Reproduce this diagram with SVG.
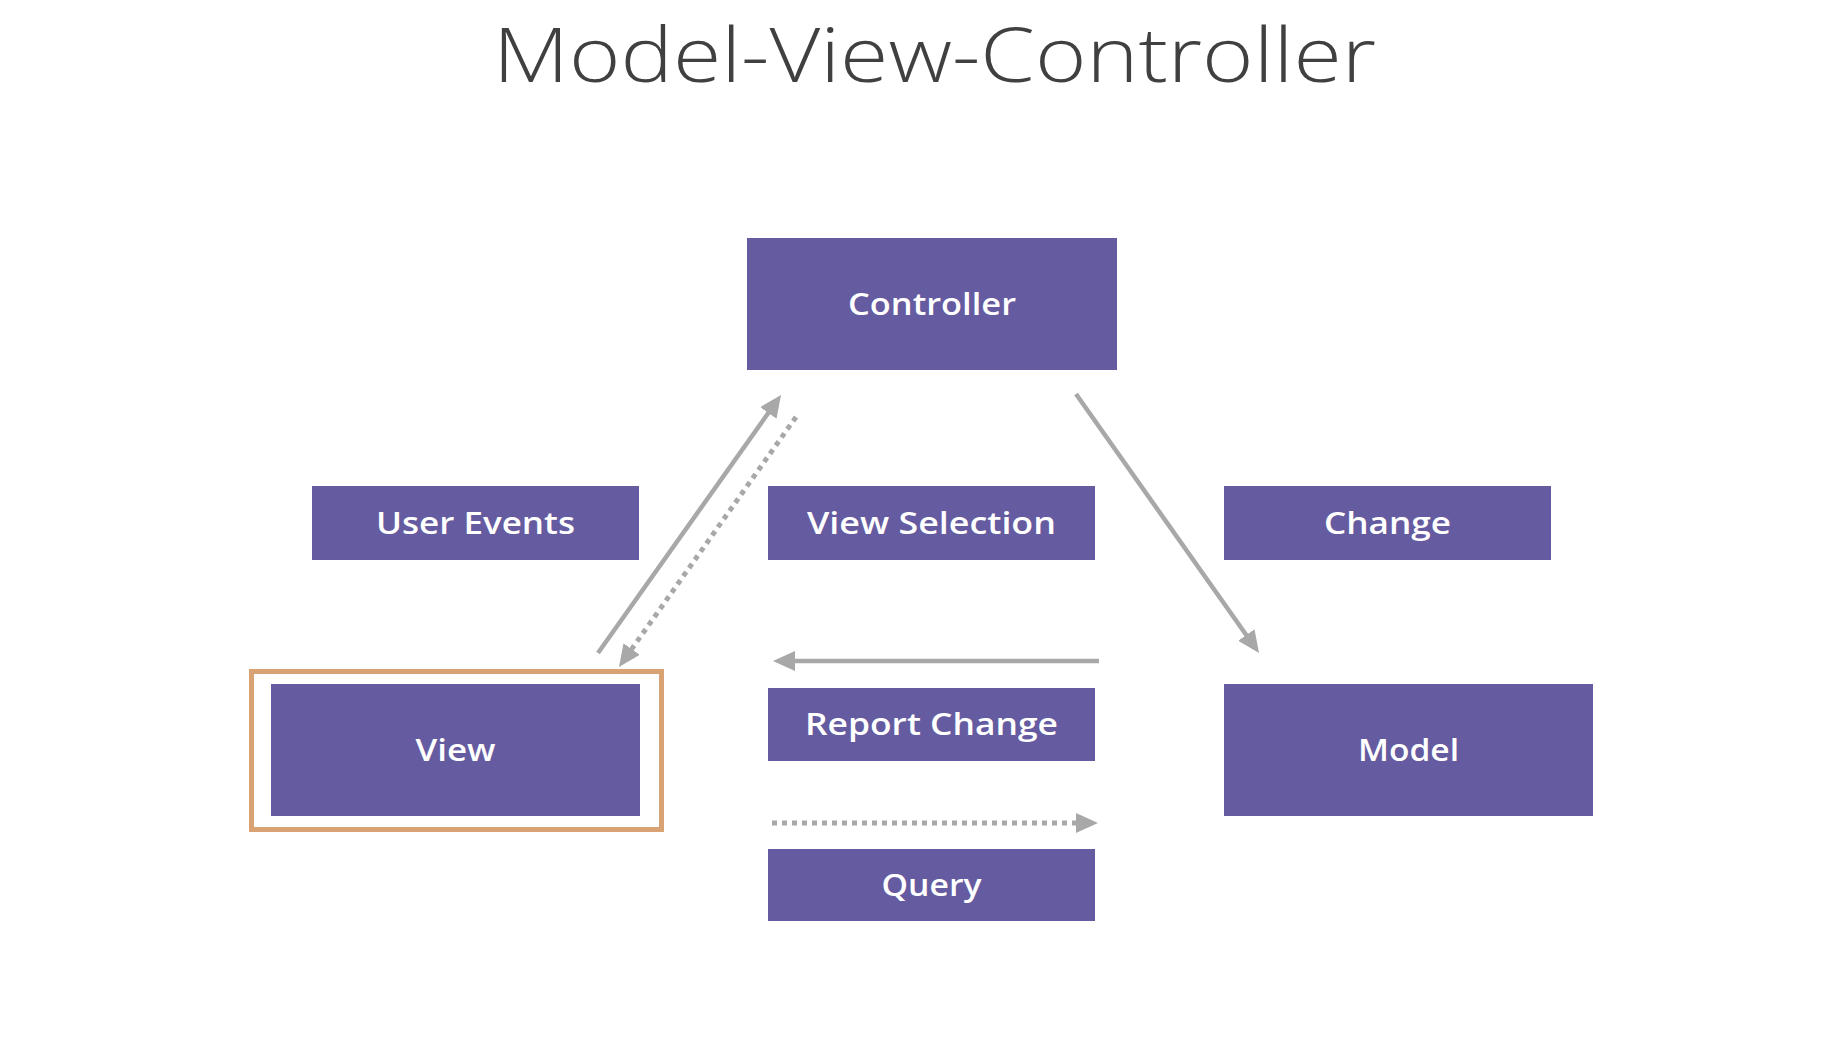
<svg xmlns="http://www.w3.org/2000/svg" width="1832" height="1056" viewBox="0 0 1832 1056">
  <style>
    .box { fill: #655BA0; }
    .lbl { fill: #ffffff; font-family: "Open Sans", "Liberation Sans", sans-serif; font-weight: 600; font-size: 30px; text-anchor: middle; }
    .title { fill: #404040; font-family: "Open Sans", "Lato", "Liberation Sans", sans-serif; font-weight: 300; font-size: 76px; text-anchor: middle; }
    .solid { stroke: #A8A8A8; stroke-width: 4.5; fill: none; marker-end: url(#head); }
    .dotted { stroke: #A8A8A8; stroke-width: 5; fill: none; stroke-dasharray: 5 5; marker-end: url(#head); }
  </style>
  <defs>
    <marker id="head" markerUnits="userSpaceOnUse" markerWidth="24" markerHeight="22" refX="10" refY="10" orient="auto">
      <path d="M0,0 L22,10 L0,20 z" fill="#A8A8A8"/>
    </marker>
  </defs>
  <rect width="1832" height="1056" fill="#ffffff"/>
  <text class="title" x="934.5" y="82" textLength="883" lengthAdjust="spacingAndGlyphs">Model-View-Controller</text>

  <g id="connectors">
    <line class="solid" x1="598" y1="653" x2="774.1" y2="404.8"/>
    <line class="dotted" x1="796" y1="417" x2="625.9" y2="657.2"/>
    <line class="solid" x1="1076" y1="394" x2="1252.1" y2="643.2"/>
    <line class="solid" x1="1099" y1="661" x2="785" y2="661"/>
    <line class="dotted" x1="772" y1="823" x2="1086" y2="823"/>
  </g>

  <g id="controller">
    <rect class="box" x="747" y="238" width="370" height="132"/>
    <text class="lbl" x="932" y="314.5" textLength="168" lengthAdjust="spacingAndGlyphs">Controller</text>
  </g>
  <g id="user-events">
    <rect class="box" x="312" y="486" width="327" height="74"/>
    <text class="lbl" x="475.5" y="533.5" textLength="199" lengthAdjust="spacingAndGlyphs">User Events</text>
  </g>
  <g id="view-selection">
    <rect class="box" x="768" y="486" width="327" height="74"/>
    <text class="lbl" x="931.5" y="533.5" textLength="249" lengthAdjust="spacingAndGlyphs">View Selection</text>
  </g>
  <g id="change">
    <rect class="box" x="1224" y="486" width="327" height="74"/>
    <text class="lbl" x="1387.5" y="533.5" textLength="127" lengthAdjust="spacingAndGlyphs">Change</text>
  </g>
  <g id="view">
    <rect x="251.5" y="671.5" width="410" height="158" fill="none" stroke="#D9A273" stroke-width="5"/>
    <rect class="box" x="271" y="684" width="369" height="132"/>
    <text class="lbl" x="455.5" y="760.5" textLength="80" lengthAdjust="spacingAndGlyphs">View</text>
  </g>
  <g id="report-change">
    <rect class="box" x="768" y="688" width="327" height="73"/>
    <text class="lbl" x="931.5" y="735" textLength="253" lengthAdjust="spacingAndGlyphs">Report Change</text>
  </g>
  <g id="query">
    <rect class="box" x="768" y="849" width="327" height="72"/>
    <text class="lbl" x="931.5" y="895.5" textLength="100" lengthAdjust="spacingAndGlyphs">Query</text>
  </g>
  <g id="model">
    <rect class="box" x="1224" y="684" width="369" height="132"/>
    <text class="lbl" x="1408.5" y="760.5" textLength="101" lengthAdjust="spacingAndGlyphs">Model</text>
  </g>
</svg>
